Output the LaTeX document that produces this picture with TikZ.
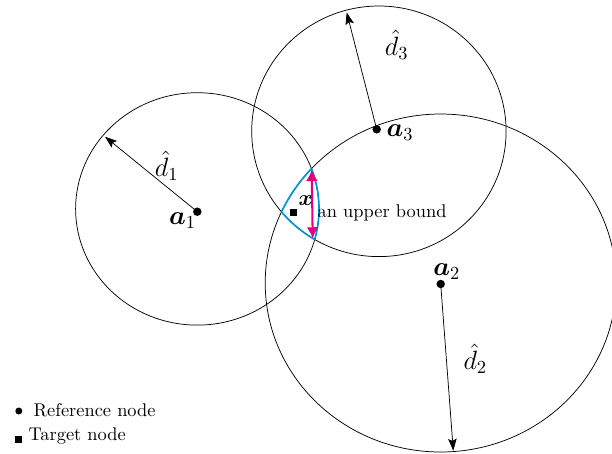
\documentclass[tikz,border=0pt]{standalone}
\usepackage{amsmath,bm}
\usetikzlibrary{arrows.meta}
\definecolor{upmag}{RGB}{230,0,126}
\definecolor{regblue}{RGB}{0,150,214}
\begin{document}
\begin{tikzpicture}[x=0.5435pt,y=-0.5435pt,
  rng/.style={draw=black, line width=0.4pt},
  radarrow/.style={-{Stealth[length=6.5pt,width=4.6pt,inset=1.2pt]}, line width=0.4pt},
  refdot/.style={circle, fill=black, inner sep=0pt, minimum size=4.6pt},
  legdot/.style={circle, fill=black, inner sep=0pt, minimum size=3.8pt},
  tgtsq/.style={rectangle, fill=black, inner sep=0pt, minimum size=3.7pt},
  lbl/.style={inner sep=0pt, font=\Large},
  boundary/.style={draw=regblue, line width=0.9pt},
  bndarrow/.style={{Latex[length=6pt,width=6.5pt]}-{Latex[length=6pt,width=6.5pt]}, draw=upmag, line width=1.1pt},
  txt/.style={inner sep=0pt, anchor=base west},
]
\useasboundingbox (0,0) rectangle (612,453);

% circle centres
\coordinate (c1) at (197.3,208.9);
\coordinate (c2) at (440.7,283);
\coordinate (c3) at (378.9,131.3);

% range circles
\draw[rng] (c1) ellipse [x radius=66.14pt, y radius=63.15pt];
\draw[rng] (c2) ellipse [x radius=95.38pt, y radius=91.85pt];
\draw[rng] (c3) ellipse [x radius=69.13pt, y radius=68.10pt];

% boundary of the intersection region
\begin{scope}
  \clip (c2) ellipse [x radius=95.38pt, y radius=91.85pt];
  \clip (c3) ellipse [x radius=69.13pt, y radius=68.10pt];
  \draw[boundary] (c1) ellipse [x radius=66.14pt, y radius=63.15pt];
\end{scope}
\begin{scope}
  \clip (c1) ellipse [x radius=66.14pt, y radius=63.15pt];
  \clip (c3) ellipse [x radius=69.13pt, y radius=68.10pt];
  \draw[boundary] (c2) ellipse [x radius=95.38pt, y radius=91.85pt];
\end{scope}
\begin{scope}
  \clip (c1) ellipse [x radius=66.14pt, y radius=63.15pt];
  \clip (c2) ellipse [x radius=95.38pt, y radius=91.85pt];
  \draw[boundary] (c3) ellipse [x radius=69.13pt, y radius=68.10pt];
\end{scope}

% reference nodes
\node[refdot] (a1) at (197.3,211.7) {};
\node[refdot] (a2) at (440.7,284) {};
\node[refdot] (a3) at (376.7,129.3) {};

% radius arrow ends
\coordinate (t1) at (105,136.7);
\coordinate (t2) at (453.3,450.7);
\coordinate (t3) at (346.7,12.5);

\draw[radarrow] (a1.center) -- (t1);
\draw[radarrow] (a2.center) -- (t2);
\draw[radarrow] (a3.center) -- (t3);

% labels
\node[lbl] (la1) at (182.5,220.8) {$\bm{a}_1$};
\node[lbl] (la2) at (446.7,271.7) {$\bm{a}_2$};
\node[lbl] (la3) at (400,132.5) {$\bm{a}_3$};
\node[lbl] (ld1) at (166.7,166) {$\hat{d}_1$};
\node[lbl] (ld2) at (475.3,359) {$\hat{d}_2$};
\node[lbl] (ld3) at (396.7,45) {$\hat{d}_3$};

% target
\node[tgtsq] (x) at (293.3,212.7) {};
\node[inner sep=0pt, font=\large] (lx) at (305.8,200.8) {$\bm{x}$};

% upper bound arrow
\coordinate (vt) at (311.7,170);
\coordinate (vb) at (312.7,238.3);
\draw[bndarrow] (vt) -- (vb);
\node[txt] (ub) at (317.3,217.7) {an upper bound};

% legend
\node[legdot] (lgd) at (18.8,411) {};
\node[txt] (lgdt) at (33.3,416) {Reference node};
\node[tgtsq] (lgs) at (18.3,439.5) {};
\node[txt] (lgst) at (28.3,440.5) {Target node};
\end{tikzpicture}
\end{document}
